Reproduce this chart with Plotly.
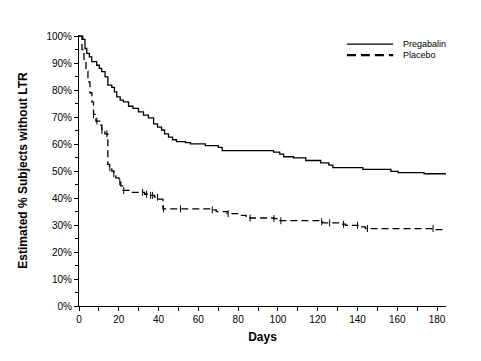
import numpy as np
import plotly.graph_objects as go

# Pregabalin (solid) Kaplan-Meier steps
preg_days = [0, 1.9, 3, 3.9, 5.2, 6.4, 8.9, 10.2, 11.4, 13.1, 14.5, 16.5, 17.8, 19, 20.7, 22.3,
             24.9, 27.1, 29.9, 32.4, 34.9, 37.5, 39.5, 41.5, 43, 45, 47, 49, 53.5, 56, 63.5, 70,
             72, 97.8, 100.9, 102.9, 107.9, 114, 121.5, 125.6, 127.6, 142.7, 156.8, 160.4, 173.5, 184.5]
preg_pct = [100, 98.8, 95.4, 93.6, 92.3, 90.5, 89.2, 88.0, 86.8, 84.9, 81.8, 81.0, 79.3, 77.5, 76.3, 75.6,
            74.0, 73.2, 71.9, 70.7, 69.7, 67.5, 66.3, 65.2, 63.8, 62.6, 61.6, 60.9, 60.5, 60.1, 59.4, 58.8,
            57.6, 57.0, 56.3, 55.3, 54.9, 53.9, 53.0, 52.2, 51.3, 50.6, 49.9, 49.4, 49.0, 49.0]

# Placebo (dashed) Kaplan-Meier steps
plac_days = [0, 1.5, 2.5, 3.5, 4.5, 5.5, 6.5, 7.3, 8.5, 10.5, 11.5, 13, 14.5, 15.3, 16.5, 17.5, 18.5,
             20, 21, 22, 26, 33, 35.5, 38, 39.7, 42.2, 67, 69, 74.5, 81, 84, 86, 98, 101, 121.5, 122.5,
             131.6, 134, 140.8, 144, 178.7, 184.5]
plac_pct = [100, 95, 91, 87, 83, 79, 75.5, 71, 68.5, 67, 65, 63.8, 52.5, 51.2, 50, 49, 47.5,
            46, 44.5, 42.8, 42.1, 41.4, 41, 40.3, 39.6, 36.0, 35.6, 35.0, 34.2, 33.6, 33.2, 32.6, 32.4, 31.6, 31.2, 30.8,
            30.3, 29.9, 29.3, 28.7, 28.3, 28.3]

# Placebo censoring times
plac_censor = [7.3, 9, 11.5, 14, 15.5, 17.5, 20.5, 22.5, 32, 34, 36, 37, 39.5, 42.5, 51, 67, 75,
               86, 98, 101.5, 122, 126, 133, 140, 145, 178]

y_ticks = list(range(0, 101, 10))
y_labels = [f"{v}%" for v in y_ticks]
x_ticks = list(range(0, 181, 20))


def step_value(days, pct, t):
    idx = np.searchsorted(np.array(days), t, side="right") - 1
    return np.array(pct)[idx]


fig = go.Figure()
fig.add_trace(go.Scatter(x=preg_days, y=preg_pct, mode="lines", line_shape="hv",
                         line=dict(color="black", width=1.3), name="Pregabalin", showlegend=False))
fig.add_trace(go.Scatter(x=plac_days, y=plac_pct, mode="lines", line_shape="hv",
                         line=dict(color="black", width=1.3, dash="7px,4px"), name="Placebo",
                         showlegend=False))
fig.add_trace(go.Scatter(x=plac_censor, y=step_value(plac_days, plac_pct, plac_censor), mode="markers",
                         marker=dict(symbol="line-ns", size=5, line=dict(color="black", width=1)),
                         showlegend=False, hoverinfo="skip"))

font = "Liberation Sans, Arial, sans-serif"

# manual legend
fig.add_shape(type="line", xref="paper", yref="paper", x0=0.730, x1=0.856, y0=0.966, y1=0.966,
              line=dict(color="black", width=1.2))
fig.add_shape(type="line", xref="paper", yref="paper", x0=0.730, x1=0.856, y0=0.926, y1=0.926,
              line=dict(color="black", width=2.2, dash="9px,5px"))
fig.add_annotation(xref="paper", yref="paper", x=0.878, y=0.966, text="Pregabalin", showarrow=False,
                   xanchor="left", yanchor="middle", font=dict(family=font, size=9, color="black"))
fig.add_annotation(xref="paper", yref="paper", x=0.878, y=0.926, text="Placebo", showarrow=False,
                   xanchor="left", yanchor="middle", font=dict(family=font, size=9, color="black"))

# page body has an 8px margin, so the figure is 8px smaller and margins are shifted
fig.update_layout(
    width=473, height=353,
    margin=dict(l=71, r=35, t=27, b=55),
    paper_bgcolor="white", plot_bgcolor="white",
    font=dict(family=font, size=10, color="black"),
    showlegend=False,
)
fig.update_xaxes(range=[0, 184.5], tickvals=x_ticks, ticks="outside", ticklen=4, tickwidth=1,
                 tickcolor="black", showline=True, linecolor="black", linewidth=1, showgrid=False,
                 zeroline=False, automargin=False,
                 minor=dict(dtick=10, tick0=0, ticks="outside", ticklen=4, tickcolor="black", showgrid=False),
                 title=dict(text="<b>Days</b>", font=dict(size=12), standoff=8))
fig.update_yaxes(range=[0, 100.4], tickvals=y_ticks, ticktext=y_labels, ticks="outside", ticklen=4,
                 tickwidth=1, tickcolor="black", showline=True, linecolor="black", linewidth=1,
                 showgrid=False, zeroline=False, automargin=False,
                 minor=dict(dtick=5, tick0=0, ticks="outside", ticklen=3, tickcolor="black", showgrid=False),
                 title=dict(text="<b>Estimated % Subjects without LTR</b>", font=dict(size=12), standoff=16))

fig.write_html("out.html")
